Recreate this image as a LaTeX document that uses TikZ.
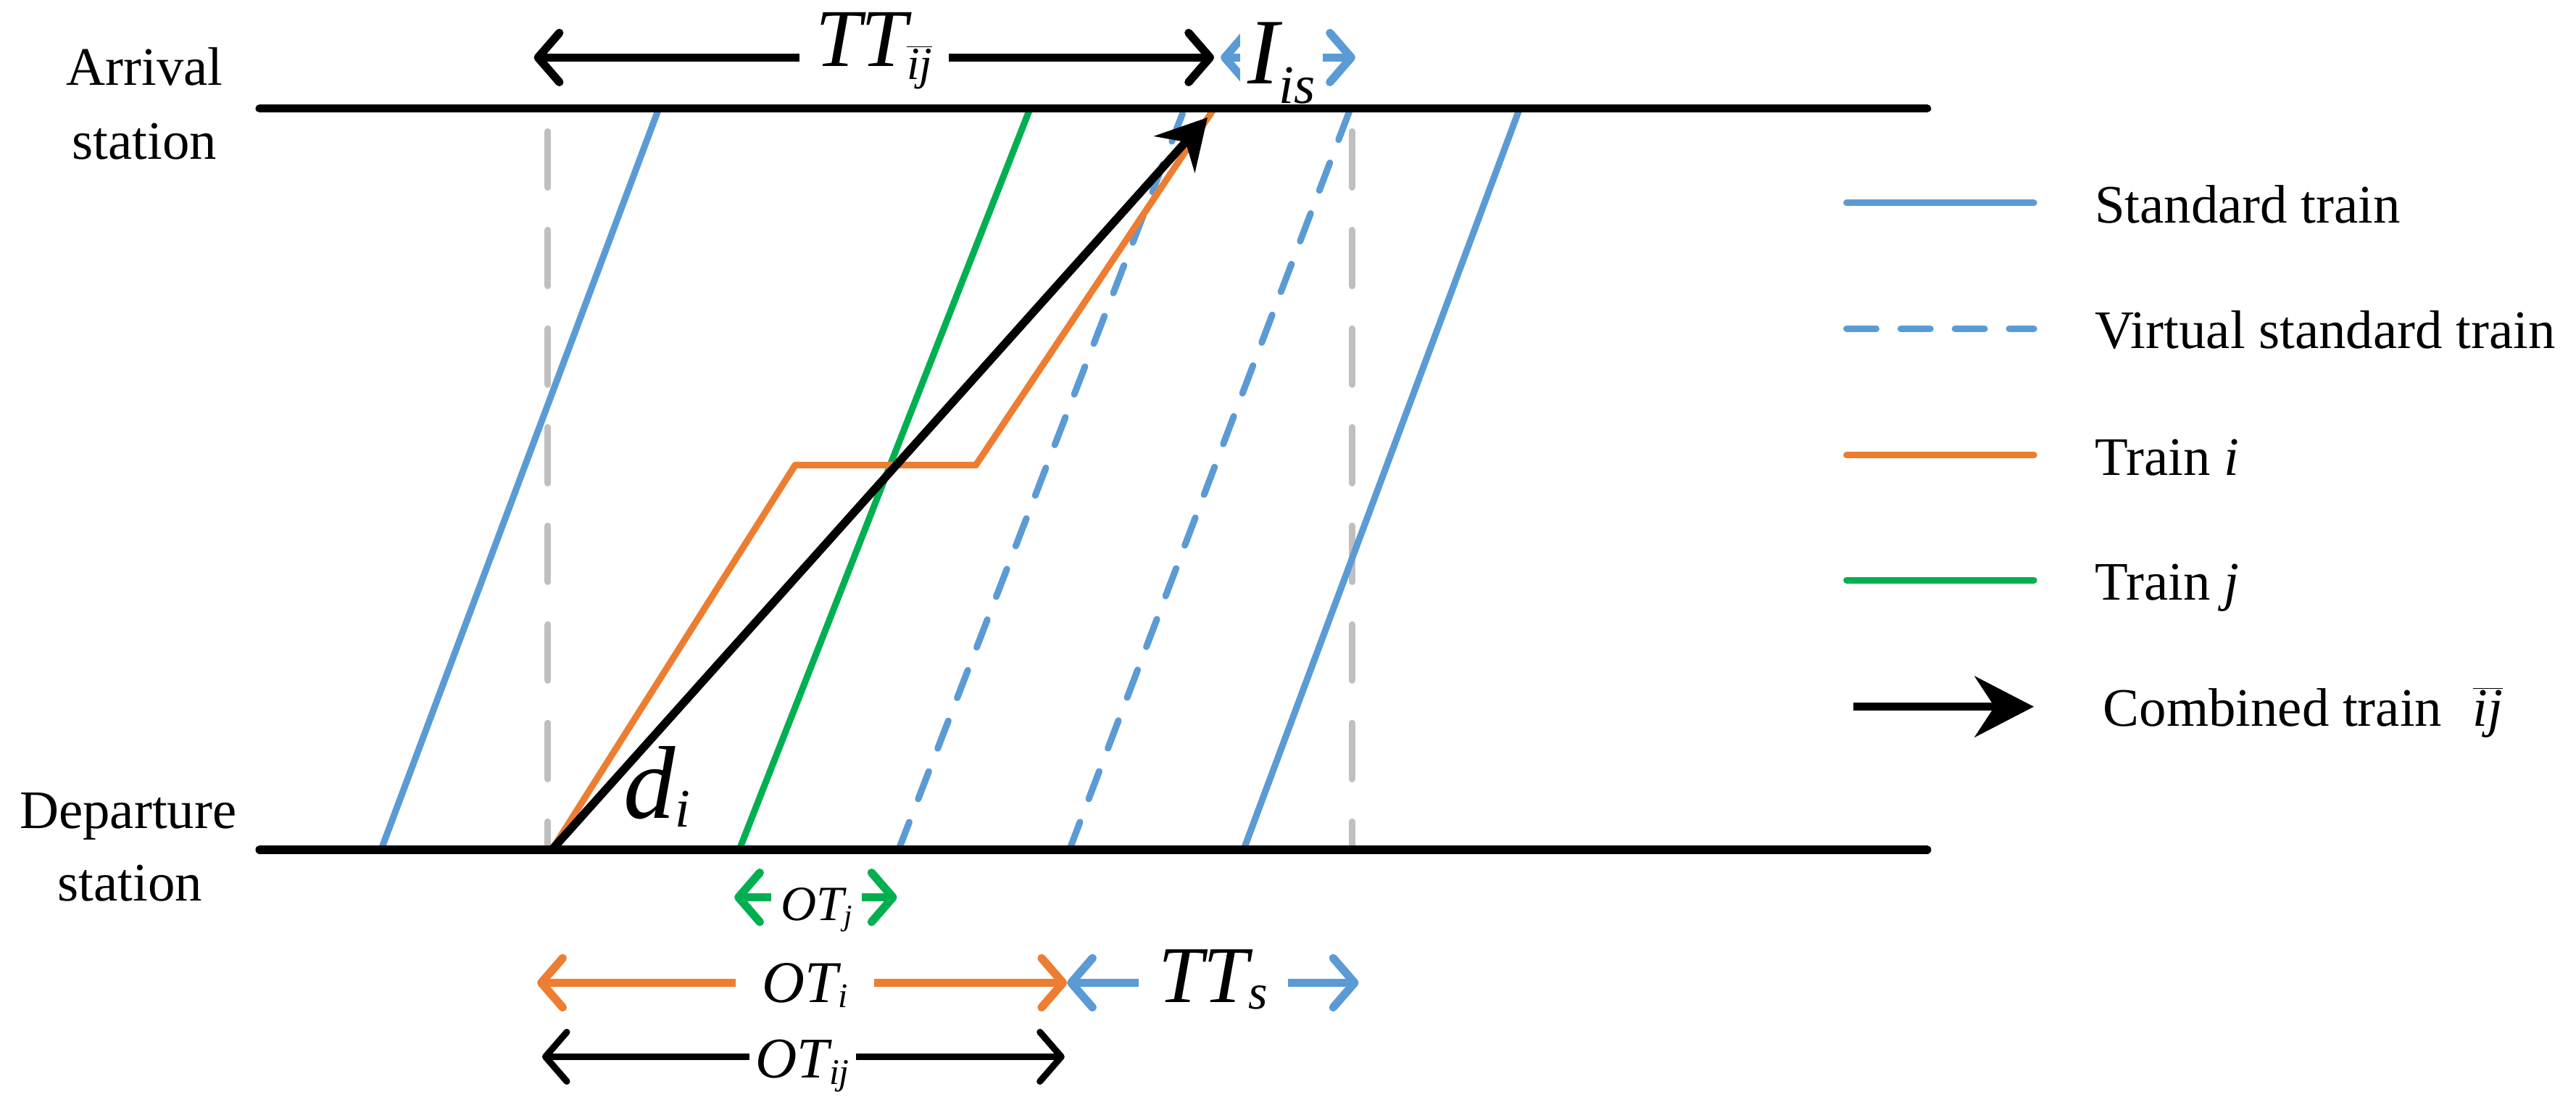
\documentclass[tikz,border=0pt]{standalone}
\usepackage{fontspec}
\setmainfont{LiberationSerif}[Extension=.ttf,UprightFont=*-Regular,ItalicFont=*-Italic,BoldFont=*-Bold,BoldItalicFont=*-BoldItalic]
\usetikzlibrary{arrows.meta}
\definecolor{tblue}{RGB}{91,155,213}
\definecolor{torange}{RGB}{237,125,49}
\definecolor{tgreen}{RGB}{0,176,80}
\definecolor{tgray}{RGB}{191,191,191}
\newcommand\fs[1]{\fontsize{#1pt}{#1pt}\selectfont}
\newcommand\sbx[3]{\raisebox{-#2pt}{\fs{#1}\itshape #3}}
\begin{document}
\begin{tikzpicture}[x=1pt,y=-1pt,
  station/.style={line width=5pt,line cap=round},
  stdtrain/.style={tblue,line width=4pt},
  vtrain/.style={tblue,line width=4pt,line cap=round,dash pattern=on 18pt off 15pt},
  traini/.style={torange,line width=4pt,line join=round},
  trainj/.style={tgreen,line width=4pt},
  guide/.style={tgray,line width=4pt,line cap=round,dash pattern=on 34pt off 26pt},
  combined/.style={line width=5pt,-{Stealth[length=30pt,width=33pt,inset=10pt]}},
  dimarr/.style={line width=5pt,line cap=round,{Straight Barb[length=13pt,width=30pt,round]}-{Straight Barb[length=13pt,width=30pt,round]}},
  gaplbl/.style={fill=white,inner sep=0pt,anchor=base},
  txt/.style={font=\fs{33},inner sep=0pt,anchor=base},
  legtxt/.style={font=\fs{33},inner sep=0pt,anchor=base west},
  legline/.style={line width=4pt,line cap=round}]
\useasboundingbox[fill=white] (0,0) rectangle (1568,672);

% station labels
\node[txt] (arrA) at (88,52) {Arrival};
\node[txt] (arrB) at (88,97) {station};
\node[txt] (depA) at (78,504) {Departure};
\node[txt] (depB) at (79,548) {station};

% coordinates
\coordinate (A0) at (158,66);  \coordinate (A1) at (1173,66);
\coordinate (D0) at (158,517); \coordinate (D1) at (1173,517);
\coordinate (g1t) at (333.5,80); \coordinate (g1b) at (333.5,517);
\coordinate (g2t) at (823,80);   \coordinate (g2b) at (823,517);
\coordinate (s1b) at (232,517); \coordinate (s1t) at (401,66);
\coordinate (s2b) at (757,517); \coordinate (s2t) at (925,66);
\coordinate (v1b) at (547,517); \coordinate (v1t) at (721,66);
\coordinate (v2b) at (651,517); \coordinate (v2t) at (822,66);
\coordinate (jb) at (450,517);  \coordinate (jt) at (627,66);
\coordinate (ib) at (336,517);  \coordinate (i1) at (484,283);
\coordinate (i2) at (594,283);  \coordinate (it) at (739,66);
\coordinate (ct) at (735,71.5);

% guides
\draw[guide] (g1t) -- (g1b);
\draw[guide] (g2t) -- (g2b);
% trains
\draw[stdtrain] (s1b) -- (s1t);
\draw[stdtrain] (s2b) -- (s2t);
\draw[vtrain] (v1b) -- (v1t);
\draw[vtrain] (v2b) -- (v2t);
\draw[trainj] (jb) -- (jt);
\draw[traini] (ib) -- (i1) -- (i2) -- (it);
\draw[combined] (ib) -- (ct);

% stations
\draw[station] (A0) -- (A1);
\draw[station] (D0) -- (D1);

% top dimensions
\coordinate (ttL) at (325,35); \coordinate (ttR) at (739,35);
\draw[dimarr] (ttL) -- (ttR);
\node[gaplbl,minimum width=91pt] (ttlbl) at (532,40.5)
  {{\fs{50}\itshape TT}\sbx{28}{8}{$\overline{\hbox{\itshape ij}}$}};
\coordinate (isL) at (743,35); \coordinate (isR) at (825,35);
\draw[dimarr,tblue] (isL) -- (isR);
\node[gaplbl,minimum width=50pt] (islbl) at (780,51)
  {{\fs{57}\itshape I}\sbx{33}{12}{is}};

% d_i
\node[txt] (dlbl) at (400,498) {{\fs{63}\itshape d}\sbx{33}{5}{i}};

% bottom dimensions
\coordinate (ojL) at (447,546); \coordinate (ojR) at (546,546);
\draw[dimarr,tgreen] (ojL) -- (ojR);
\node[gaplbl,minimum width=55pt] (ojlbl) at (497,560)
  {{\fs{30}\itshape OT}\sbx{18}{3}{j}};

\coordinate (oiL) at (327,598); \coordinate (oiR) at (649.5,598);
\draw[dimarr,torange] (oiL) -- (oiR);
\node[gaplbl,minimum width=84pt] (oilbl) at (490,610)
  {{\fs{36}\itshape OT}\sbx{21}{3}{i}};

\coordinate (tsL) at (649.5,598); \coordinate (tsR) at (827,598);
\draw[dimarr,tblue] (tsL) -- (tsR);
\node[gaplbl,minimum width=91pt] (tslbl) at (738.5,610)
  {{\fs{49}\itshape TT}\sbx{30}{4}{s}};

\coordinate (oijL) at (330,643); \coordinate (oijR) at (648,643);
\draw[dimarr,line width=4pt] (oijL) -- (oijR);
\node[gaplbl,minimum width=65pt] (oijlbl) at (488.5,656)
  {{\fs{35}\itshape OT}\sbx{22}{4}{ij}};

% legend
\coordinate (l1a) at (1124,123.5); \coordinate (l1b) at (1238,123.5);
\coordinate (l2a) at (1124,200);   \coordinate (l2b) at (1238,200);
\coordinate (l3a) at (1124,277);   \coordinate (l3b) at (1238,277);
\coordinate (l4a) at (1124,353);   \coordinate (l4b) at (1238,353);
\coordinate (l5a) at (1128,430);   \coordinate (l5b) at (1238,430);
\draw[legline,tblue] (l1a) -- (l1b);
\draw[legline,tblue,dash pattern=on 18pt off 15pt] (l2a) -- (l2b);
\draw[legline,torange] (l3a) -- (l3b);
\draw[legline,tgreen] (l4a) -- (l4b);
\draw[line width=5pt,-{Stealth[length=36pt,width=37pt,inset=12pt]}] (l5a) -- (l5b);
\node[legtxt] (t1) at (1275,135.5) {Standard train};
\node[legtxt] (t2) at (1275,212) {Virtual standard train};
\node[legtxt] (t3) at (1275,289) {Train \textit{i}};
\node[legtxt] (t4) at (1275,365) {Train \textit{j}};
\node[legtxt] (t5) at (1280,442) {Combined train};
\node[legtxt] (t6) at (1505,442) {$\overline{\hbox{\itshape ij}}$};
\end{tikzpicture}
\end{document}
